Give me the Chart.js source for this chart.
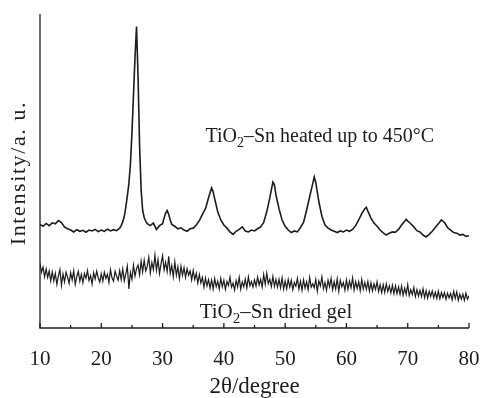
<!DOCTYPE html>
<html>
<head>
<meta charset="utf-8">
<script src="https://cdn.jsdelivr.net/npm/chart.js@4/dist/chart.umd.min.js"></script>
<style>
  html, body { margin: 0; padding: 0; background: #fff; }
  #wrap { width: 483px; height: 398px; }
</style>
</head>
<body>
<div id="wrap"><canvas id="xrd"></canvas></div>
<script>
// 2theta / intensity pairs (arbitrary units, 0-100)
const heated = [
  [10,33.0],[10.5,32.4],[11,33.3],[11.5,32.6],[12,33.5],[12.5,33.2],[13,34.2],[13.5,33.6],[14,32.2],[14.5,31.6],
  [15,31.2],[15.5,30.6],[16,31.3],[16.5,30.8],[17,31.1],[17.5,30.5],[18,31.2],[18.5,30.9],[19,31.4],[19.5,30.7],
  [20,31.2],[20.5,30.8],[21,31.5],[21.5,30.9],[22,31.3],[22.5,31.0],[23,31.8],[23.25,32.6],[23.5,33.8],[23.75,35.5],
  [24,38.5],[24.25,42],[24.5,46],[24.75,52],[25,62],[25.25,74],[25.5,86],[25.75,96],[26,80],[26.25,58],
  [26.5,44],[26.75,37.5],[27,35.2],[27.25,34.0],[27.5,33.2],[28,32.6],[28.5,33.4],[29,31.4],[29.5,32.6],[30,33.2],
  [30.25,35],[30.5,36.6],[30.75,37.4],[31,36.2],[31.25,34.4],[31.5,33.0],[32,32.4],[32.5,31.6],[33,31.9],[33.5,31.2],
  [34,30.8],[34.5,31.6],[35,31.8],[35.5,32.8],[36,34.2],[36.5,36.2],[37,38.0],[37.5,41.5],[38,44.6],[38.25,43.4],
  [38.5,41.2],[39,37.0],[39.5,34.4],[40,32.8],[40.5,31.8],[41,30.6],[41.5,29.8],[42,30.8],[42.5,31.4],[43,32.2],
  [43.5,30.9],[44,30.6],[44.5,31.2],[45,30.9],[45.5,31.6],[46,32.2],[46.5,33.6],[47,37.0],[47.5,41.5],[48,46.5],
  [48.25,45.6],[48.5,42.4],[49,38.0],[49.5,34.4],[50,32.4],[50.5,31.2],[51,30.4],[51.5,30.9],[52,30.6],[52.5,32.0],
  [53,33.6],[53.5,37.5],[54,41.8],[54.5,46.0],[54.75,48.1],[55,46.4],[55.5,40.2],[56,35.6],[56.5,32.8],[57,31.8],
  [57.5,31.2],[58,30.8],[58.5,30.4],[59,30.9],[59.5,30.6],[60,31.2],[60.5,30.8],[61,31.4],[61.5,32.6],[62,34.4],
  [62.5,36.4],[63,38.0],[63.25,38.4],[63.5,37.2],[64,35.0],[64.5,33.4],[65,32.4],[65.5,31.2],[66,30.3],[66.5,29.6],
  [67,30.2],[67.5,30.6],[68,30.5],[68.5,31.4],[69,32.8],[69.5,34.0],[69.75,34.6],[70,34.0],[70.5,33.2],[71,32.2],
  [71.5,31.0],[72,30.6],[72.5,29.6],[73,29.0],[73.5,29.8],[74,30.8],[74.5,32.0],[75,33.2],[75.5,34.4],[76,33.6],
  [76.5,32.0],[77,31.2],[77.5,30.4],[78,30.2],[78.5,29.6],[79,29.8],[79.5,29.2],[80,29.4]
];

const driedGel = [
  [10,20.6],[10.25,17.8],[10.5,19.4],[10.75,16.3],[11,18.8],[11.25,16.1],[11.5,18.2],[11.75,15.0],
  [12,17.9],[12.25,15.0],[12.5,17.4],[12.75,13.9],[13,16.6],[13.25,18.6],[13.5,13.6],[13.75,17.2],
  [14,14.7],[14.25,17.8],[14.5,16.2],[14.75,14.2],[15,17.6],[15.25,15.3],[15.5,18.2],[15.75,13.9],
  [16,16.4],[16.25,18.0],[16.5,14.9],[16.75,17.1],[17,14.4],[17.25,17.4],[17.5,15.8],[17.75,18.3],
  [18,15.1],[18.25,16.7],[18.5,14.0],[18.75,17.6],[19,15.6],[19.25,18.1],[19.5,16.0],[19.75,14.6],
  [20,17.3],[20.25,14.9],[20.5,17.8],[20.75,15.8],[21,17.1],[21.25,14.5],[21.5,18.6],[21.75,15.9],
  [22,14.9],[22.25,18.1],[22.5,16.5],[22.75,15.2],[23,18.3],[23.25,15.4],[23.5,18.8],[23.75,15.0],
  [24,17.2],[24.25,19.7],[24.5,12.4],[24.75,17.7],[25,15.5],[25.25,20.0],[25.5,16.5],[25.75,18.9],
  [26,20.1],[26.25,16.9],[26.5,21.3],[26.75,17.9],[27,21.6],[27.25,18.2],[27.5,19.6],[27.75,22.5],
  [28,17.5],[28.25,20.9],[28.5,18.6],[28.75,23.2],[29,18.4],[29.25,21.8],[29.5,17.3],[29.75,20.5],
  [30,23.0],[30.25,18.5],[30.5,20.9],[30.75,18.0],[31,22.8],[31.25,17.4],[31.5,19.9],[31.75,16.3],
  [32,21.1],[32.25,16.8],[32.5,19.5],[32.75,15.7],[33,19.7],[33.25,16.8],[33.5,19.2],[33.75,16.1],
  [34,18.9],[34.25,16.8],[34.5,18.2],[34.75,15.3],[35,18.3],[35.25,15.4],[35.5,17.4],[35.75,14.3],
  [36,17.0],[36.25,14.3],[36.5,16.1],[36.75,13.0],[37,15.9],[37.25,13.4],[37.5,15.4],[37.75,12.7],
  [38,15.3],[38.25,12.4],[38.5,15.8],[38.75,13.1],[39,14.9],[39.25,12.4],[39.5,15.8],[39.75,13.1],
  [40,15.2],[40.25,12.3],[40.5,14.8],[40.75,13.5],[41,16.2],[41.25,13.0],[41.5,14.3],[41.75,12.1],
  [42,15.1],[42.25,13.1],[42.5,16.2],[42.75,12.4],[43,14.7],[43.25,13.1],[43.5,15.6],[43.75,12.7],
  [44,16.3],[44.25,13.4],[44.5,14.8],[44.75,13.0],[45,15.3],[45.25,13.3],[45.5,16.2],[45.75,13.7],
  [46,15.5],[46.25,13.0],[46.5,17.0],[46.75,13.9],[47,17.5],[47.25,14.1],[47.5,15.5],[47.75,13.2],
  [48,16.4],[48.25,13.3],[48.5,15.5],[48.75,13.0],[49,15.5],[49.25,12.8],[49.5,16.0],[49.75,12.4],
  [50,15.0],[50.25,12.5],[50.5,15.5],[50.75,13.0],[51,15.2],[51.25,12.2],[51.5,14.5],[51.75,13.3],
  [52,15.8],[52.25,12.4],[52.5,14.9],[52.75,12.0],[53,15.4],[53.25,12.7],[53.5,14.7],[53.75,12.2],
  [54,16.1],[54.25,13.0],[54.5,14.1],[54.75,12.8],[55,15.5],[55.25,11.7],[55.5,15.0],[55.75,13.4],
  [56,16.3],[56.25,12.5],[56.5,14.5],[56.75,12.0],[57,15.2],[57.25,13.1],[57.5,15.8],[57.75,12.2],
  [58,14.8],[58.25,12.4],[58.5,15.7],[58.75,11.7],[59,15.2],[59.25,13.1],[59.5,14.5],[59.75,12.0],
  [60,15.3],[60.25,12.3],[60.5,14.9],[60.75,12.8],[61,16.0],[61.25,12.1],[61.5,14.8],[61.75,12.6],
  [62,14.8],[62.25,11.9],[62.5,15.5],[62.75,12.4],[63,14.5],[63.25,12.3],[63.5,14.8],[63.75,11.8],
  [64,14.4],[64.25,11.8],[64.5,14.1],[64.75,12.3],[65,14.7],[65.25,11.6],[65.5,13.8],[65.75,11.3],
  [66,13.8],[66.25,11.3],[66.5,14.1],[66.75,11.6],[67,13.4],[67.25,11.2],[67.5,13.6],[67.75,10.9],
  [68,13.4],[68.25,10.9],[68.5,13.1],[68.75,10.7],[69,13.4],[69.25,10.4],[69.5,12.7],[69.75,10.7],
  [70,13.8],[70.25,10.3],[70.5,12.2],[70.75,10.6],[71,12.9],[71.25,10.0],[71.5,12.2],[71.75,10.2],
  [72,12.0],[72.25,10.0],[72.5,12.5],[72.75,9.7],[73,11.9],[73.25,9.5],[73.5,11.7],[73.75,10.1],
  [74,11.8],[74.25,9.6],[74.5,11.4],[74.75,9.4],[75,11.7],[75.25,9.3],[75.5,11.3],[75.75,9.7],
  [76,11.3],[76.25,9.1],[76.5,11.1],[76.75,9.6],[77,11.0],[77.25,9.0],[77.5,11.7],[77.75,9.4],
  [78,11.5],[78.25,8.8],[78.5,10.8],[78.75,9.2],[79,10.8],[79.25,8.8],[79.5,11.1],[79.75,9.2],
  [80,10.3]
];

const xTicks = [10, 20, 30, 40, 50, 60, 70, 80];

const serif = '"Liberation Serif", "Times New Roman", serif';
const ink = '#1c1c1c';

function toPoints(pairs) {
  return pairs.map(p => ({ x: p[0], y: p[1] }));
}

// axis lines, inward ticks, y title and the two curve captions
const frame = {
  id: 'frame',
  afterDraw(chart) {
    const ctx = chart.ctx;
    const a = chart.chartArea;
    const xs = chart.scales.x;
    const ys = chart.scales.y;
    ctx.save();
    ctx.strokeStyle = ink;
    ctx.lineWidth = 1.3;
    ctx.beginPath();
    ctx.moveTo(a.left, a.top);
    ctx.lineTo(a.left, a.bottom);
    ctx.lineTo(a.right, a.bottom);
    ctx.stroke();
    for (let v = 10; v <= 80; v += 5) {
      const px = xs.getPixelForValue(v);
      const len = v % 10 === 0 ? 5 : 3;
      ctx.beginPath();
      ctx.moveTo(px, a.bottom);
      ctx.lineTo(px, a.bottom - len);
      ctx.stroke();
    }

    ctx.fillStyle = ink;

    // y title, a bit wider set than the other text
    ctx.save();
    ctx.translate(19.5, (a.top + a.bottom) / 2 + 2);
    ctx.rotate(-Math.PI / 2);
    ctx.font = '22px ' + serif;
    ctx.letterSpacing = '1.6px';
    ctx.textAlign = 'center';
    ctx.textBaseline = 'middle';
    ctx.fillText('Intensity/a. u.', 0, 0);
    ctx.restore();

    ctx.textBaseline = 'alphabetic';
    function caption(xv, yv, size, rest) {
      let px = xs.getPixelForValue(xv);
      const py = ys.getPixelForValue(yv);
      ctx.font = size + 'px ' + serif;
      ctx.fillText('TiO', px, py);
      px += ctx.measureText('TiO').width;
      ctx.font = Math.round(size * 0.7) + 'px ' + serif;
      ctx.fillText('2', px, py + 5);
      px += ctx.measureText('2').width;
      ctx.font = size + 'px ' + serif;
      ctx.fillText(rest, px, py);
    }
    caption(37.0, 59.2, 20, '\u2013Sn heated up to 450\u00b0C');
    caption(36.05, 3.2, 21, '\u2013Sn dried gel');
    ctx.restore();
  }
};

new Chart(document.getElementById('xrd'), {
  type: 'line',
  data: {
    datasets: [
      {
        data: toPoints(heated),
        borderColor: ink,
        borderWidth: 1.6,
        pointRadius: 0,
        tension: 0
      },
      {
        data: toPoints(driedGel),
        borderColor: ink,
        borderWidth: 1.2,
        pointRadius: 0,
        tension: 0
      }
    ]
  },
  options: {
    responsive: true,
    maintainAspectRatio: false,
    animation: false,
    layout: { padding: { top: 14, right: 0, bottom: 0, left: 40 } },
    plugins: { legend: { display: false }, tooltip: { enabled: false } },
    scales: {
      x: {
        type: 'linear',
        min: 10,
        max: 80,
        grid: { display: false, drawTicks: false },
        border: { display: false },
        afterBuildTicks: axis => { axis.ticks = xTicks.map(v => ({ value: v })); },
        afterFit: axis => {
          axis.height = 70;
          axis.paddingLeft = 0;
          axis.paddingRight = 14;
        },
        ticks: {
          color: ink,
          padding: 19,
          maxRotation: 0,
          font: { family: serif, size: 21 }
        },
        title: {
          display: true,
          text: '2\u03b8/degree',
          color: ink,
          padding: 0,
          font: { family: serif, size: 23, lineHeight: 1 }
        }
      },
      y: {
        display: false,
        min: 0,
        max: 100
      }
    }
  },
  plugins: [frame]
});
</script>
</body>
</html>
